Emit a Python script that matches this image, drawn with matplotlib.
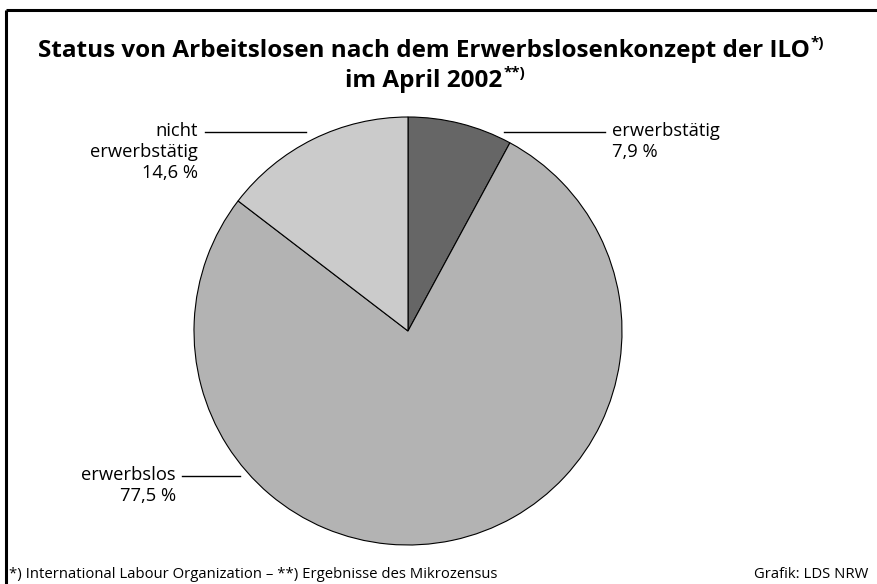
import matplotlib
matplotlib.use("Agg")
import matplotlib.pyplot as plt

# Daten
labels = ["erwerbstätig", "erwerbslos", "nicht\nerwerbstätig"]
values = [7.9, 77.5, 14.6]
colors = ["#666666", "#b3b3b3", "#cbcbcb"]

W, H = 877, 584
plt.rcParams["font.family"] = ["Open Sans", "DejaVu Sans"]

fig = plt.figure(figsize=(W / 100, H / 100), dpi=100)
ax = fig.add_axes([0, 0, 1, 1])


def Y(y):
    # Pixel von oben -> Datenkoordinate
    return H - y


# Kreis
ax.pie(values, colors=colors, startangle=90, counterclock=False,
       center=(408, Y(331)), radius=214, frame=True,
       wedgeprops=dict(edgecolor="black", linewidth=0.8))
ax.set_xlim(0, W)
ax.set_ylim(0, H)
ax.set_aspect("equal")
ax.axis("off")

# Rahmen (oben und links)
ax.plot([6, W], [Y(10), Y(10)], color="black", lw=2.2, solid_capstyle="butt")
ax.plot([6, 6], [Y(10), 0], color="black", lw=2.2, solid_capstyle="butt")

# Titel
fig.canvas.draw()
r = fig.canvas.get_renderer()
t1 = ax.text(424, Y(57), "Status von Arbeitslosen nach dem Erwerbslosenkonzept der ILO",
             ha="center", va="baseline", fontsize=17.5, fontweight="bold")
t2 = ax.text(424, Y(87), "im April 2002", ha="center", va="baseline",
             fontsize=17.5, fontweight="bold")
for t, s in [(t1, "*)"), (t2, "**)")]:
    bb = t.get_window_extent(renderer=r)
    ax.text(bb.x1 + 1, bb.y1 + 3, s, ha="left", va="top", fontsize=11,
            fontweight="bold", transform=None)


def label(x, y, lines, ha):
    for i, s in enumerate(lines):
        ax.text(x, Y(y + 21 * i), s, ha=ha, va="baseline", fontsize=13.2)


def pct(v):
    return f"{v:.1f} %".replace(".", ",")


# Beschriftungen mit Linien
ax.plot([504, 605], [Y(132), Y(132)], color="black", lw=1)
label(612, 136, [labels[0], pct(values[0])], "left")

ax.plot([205, 306], [Y(132), Y(132)], color="black", lw=1)
label(198, 136, labels[2].split("\n") + [pct(values[2])], "right")

ax.plot([182, 240], [Y(476), Y(476)], color="black", lw=1)
label(176, 480, [labels[1], pct(values[1])], "right")

# Fußnote
ax.text(9, Y(578), "*) International Labour Organization – **) Ergebnisse des Mikrozensus",
        ha="left", va="baseline", fontsize=10.7)
ax.text(868, Y(578), "Grafik: LDS NRW", ha="right", va="baseline", fontsize=10.7)

fig.savefig("out.png", dpi=100)
